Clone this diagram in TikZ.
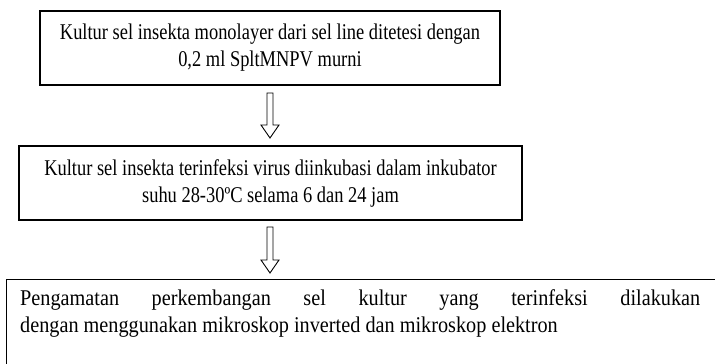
\documentclass[tikz,border=0pt]{standalone}
\usepackage{fontspec}
\setmainfont{Liberation Serif}
\newfontfamily\stepfont[FakeStretch=0.82]{Liberation Serif}
\newfontfamily\notefont[FakeStretch=0.9]{Liberation Serif}
\usetikzlibrary{calc}
\tikzset{
  stepbox/.style={draw=black, line width=1.6pt, align=center, inner sep=0pt,
    font=\stepfont\fontsize{22.5}{27}\selectfont},
  hollowarrow/.style={draw=black, line width=0.9pt, line join=miter},
}
\begin{document}
\begin{tikzpicture}[x=1pt,y=-1pt]
  \clip (0,0) rectangle (715,364);
  \fill[white] (0,0) rectangle (715,364);

  % process steps
  \node[stepbox, minimum width=460pt, minimum height=74pt] (b1) at (270,48)
    {Kultur sel insekta monolayer dari sel line ditetesi dengan\\0,2 ml SpltMNPV murni};
  \node[stepbox, minimum width=503pt, minimum height=74pt] (b2) at (270.5,183)
    {Kultur sel insekta terinfeksi virus diinkubasi dalam inkubator\\suhu 28-30ºC selama 6 dan 24 jam};
  \node[stepbox, line width=1.3pt, anchor=north west, minimum width=740pt,
        minimum height=120pt] (b3) at (6,279) {};
  \node[anchor=north west, inner sep=0pt, align=left,
        font=\notefont\fontsize{22.5}{27}\selectfont] (t3) at (20,289)
    {\makebox[680pt][s]{Pengamatan perkembangan sel kultur yang terinfeksi dilakukan}\\
     dengan menggunakan mikroskop inverted dan mikroskop elektron};

  % block arrows between the steps
  \coordinate (a1top) at (270,93);
  \coordinate (a1tip) at (270,138);
  \coordinate (a2top) at (270,227);
  \coordinate (a2tip) at (270,273);
  \foreach \t/\p in {a1top/a1tip, a2top/a2tip}{
    \draw[hollowarrow]
      ($(\t)+(-3,0)$) -- ($(\p)+(-3,-13)$) -- ($(\p)+(-9,-13)$) -- (\p)
      -- ($(\p)+(9,-13)$) -- ($(\p)+(3,-13)$) -- ($(\t)+(3,0)$) -- cycle;
  }
\end{tikzpicture}
\end{document}
